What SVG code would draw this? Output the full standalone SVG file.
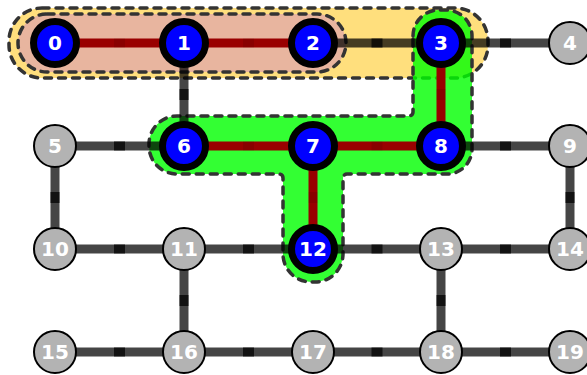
<svg xmlns="http://www.w3.org/2000/svg" width="587" height="375" viewBox="0 0 587 375">
<style>
.region{stroke:#333;stroke-width:3.5;stroke-dasharray:7 7;stroke-linecap:round;stroke-linejoin:round}
.e{stroke:#000;stroke-opacity:0.73;stroke-width:9;fill:none}
.r{stroke:#990000;stroke-width:9;fill:none}
.rm{stroke:#000;stroke-opacity:0.1;stroke-width:9;fill:none}
.sel{fill:#0000ff;stroke:#000;stroke-width:7}
.off{fill:#b3b3b3;stroke:#000;stroke-width:2}
text{font-family:"DejaVu Sans","Liberation Sans",sans-serif;font-weight:bold;font-size:20px;fill:#fff;text-anchor:middle}
</style>
<rect width="587" height="375" fill="#fff"/>
<g id="regions">
<rect id="region-yellow" class="region" x="9" y="8" width="479" height="70" rx="33" ry="33" fill="#ffd966" fill-opacity="0.85"/>
<rect id="region-salmon" class="region" x="18" y="14" width="328" height="58" rx="29" ry="29" fill="#e8b59f"/>
<path id="region-green" class="region" fill="#00ff00" fill-opacity="0.8" d="M413 36 A26 26 0 0 1 439 10 L446 10 A26 26 0 0 1 472 36 L472 149 A25 25 0 0 1 447 174 L347 174 A4 4 0 0 0 343 178 L343 254 A28 28 0 0 1 315 282 L311 282 A28 28 0 0 1 283 254 L283 178 A4 4 0 0 0 279 174 L177 174 A28 28 0 0 1 149 146 L149 144 A28 28 0 0 1 177 116 L409 116 A4 4 0 0 0 413 112 Z"/>
</g>
<g id="connectors">
<line class="e" x1="313" y1="43" x2="441" y2="43"/><line class="e" x1="371.5" y1="43" x2="382.5" y2="43"/>
<line class="e" x1="441" y1="43" x2="570" y2="43"/><line class="e" x1="500" y1="43" x2="511" y2="43"/>
<line class="e" x1="184" y1="43" x2="184" y2="146"/><line class="e" x1="184" y1="89" x2="184" y2="100"/>
<line class="e" x1="55" y1="146" x2="184" y2="146"/><line class="e" x1="114" y1="146" x2="125" y2="146"/>
<line class="e" x1="441" y1="146" x2="570" y2="146"/><line class="e" x1="500" y1="146" x2="511" y2="146"/>
<line class="e" x1="55" y1="146" x2="55" y2="249"/><line class="e" x1="55" y1="192" x2="55" y2="203"/>
<line class="e" x1="570" y1="146" x2="570" y2="249"/><line class="e" x1="570" y1="192" x2="570" y2="203"/>
<line class="e" x1="55" y1="249" x2="184" y2="249"/><line class="e" x1="114" y1="249" x2="125" y2="249"/>
<line class="e" x1="184" y1="249" x2="313" y2="249"/><line class="e" x1="243" y1="249" x2="254" y2="249"/>
<line class="e" x1="313" y1="249" x2="441" y2="249"/><line class="e" x1="371.5" y1="249" x2="382.5" y2="249"/>
<line class="e" x1="441" y1="249" x2="570" y2="249"/><line class="e" x1="500" y1="249" x2="511" y2="249"/>
<line class="e" x1="184" y1="249" x2="184" y2="352"/><line class="e" x1="184" y1="295" x2="184" y2="306"/>
<line class="e" x1="441" y1="249" x2="441" y2="352"/><line class="e" x1="441" y1="295" x2="441" y2="306"/>
<line class="e" x1="55" y1="352" x2="184" y2="352"/><line class="e" x1="114" y1="352" x2="125" y2="352"/>
<line class="e" x1="184" y1="352" x2="313" y2="352"/><line class="e" x1="243" y1="352" x2="254" y2="352"/>
<line class="e" x1="313" y1="352" x2="441" y2="352"/><line class="e" x1="371.5" y1="352" x2="382.5" y2="352"/>
<line class="e" x1="441" y1="352" x2="570" y2="352"/><line class="e" x1="500" y1="352" x2="511" y2="352"/>
<line class="r" x1="55" y1="43" x2="184" y2="43"/><line class="rm" x1="114" y1="43" x2="125" y2="43"/>
<line class="r" x1="184" y1="43" x2="313" y2="43"/><line class="rm" x1="243" y1="43" x2="254" y2="43"/>
<line class="r" x1="441" y1="43" x2="441" y2="146"/><line class="rm" x1="441" y1="89" x2="441" y2="100"/>
<line class="r" x1="184" y1="146" x2="313" y2="146"/><line class="rm" x1="243" y1="146" x2="254" y2="146"/>
<line class="r" x1="313" y1="146" x2="441" y2="146"/><line class="rm" x1="371.5" y1="146" x2="382.5" y2="146"/>
<line class="r" x1="313" y1="146" x2="313" y2="249"/><line class="rm" x1="313" y1="192" x2="313" y2="203"/>
</g>
<g id="n0"><circle class="sel" cx="55" cy="43" r="21.5"/><text x="55" y="50">0</text></g>
<g id="n1"><circle class="sel" cx="184" cy="43" r="21.5"/><text x="184" y="50">1</text></g>
<g id="n2"><circle class="sel" cx="313" cy="43" r="21.5"/><text x="313" y="50">2</text></g>
<g id="n3"><circle class="sel" cx="441" cy="43" r="21.5"/><text x="441" y="50">3</text></g>
<g id="n4"><circle class="off" cx="570" cy="43" r="21"/><text x="570" y="50">4</text></g>
<g id="n5"><circle class="off" cx="55" cy="146" r="21"/><text x="55" y="153">5</text></g>
<g id="n6"><circle class="sel" cx="184" cy="146" r="21.5"/><text x="184" y="153">6</text></g>
<g id="n7"><circle class="sel" cx="313" cy="146" r="21.5"/><text x="313" y="153">7</text></g>
<g id="n8"><circle class="sel" cx="441" cy="146" r="21.5"/><text x="441" y="153">8</text></g>
<g id="n9"><circle class="off" cx="570" cy="146" r="21"/><text x="570" y="153">9</text></g>
<g id="n10"><circle class="off" cx="55" cy="249" r="21"/><text x="55" y="256">10</text></g>
<g id="n11"><circle class="off" cx="184" cy="249" r="21"/><text x="184" y="256">11</text></g>
<g id="n12"><circle class="sel" cx="313" cy="249" r="21.5"/><text x="313" y="256">12</text></g>
<g id="n13"><circle class="off" cx="441" cy="249" r="21"/><text x="441" y="256">13</text></g>
<g id="n14"><circle class="off" cx="570" cy="249" r="21"/><text x="570" y="256">14</text></g>
<g id="n15"><circle class="off" cx="55" cy="352" r="21"/><text x="55" y="359">15</text></g>
<g id="n16"><circle class="off" cx="184" cy="352" r="21"/><text x="184" y="359">16</text></g>
<g id="n17"><circle class="off" cx="313" cy="352" r="21"/><text x="313" y="359">17</text></g>
<g id="n18"><circle class="off" cx="441" cy="352" r="21"/><text x="441" y="359">18</text></g>
<g id="n19"><circle class="off" cx="570" cy="352" r="21"/><text x="570" y="359">19</text></g>
</svg>
